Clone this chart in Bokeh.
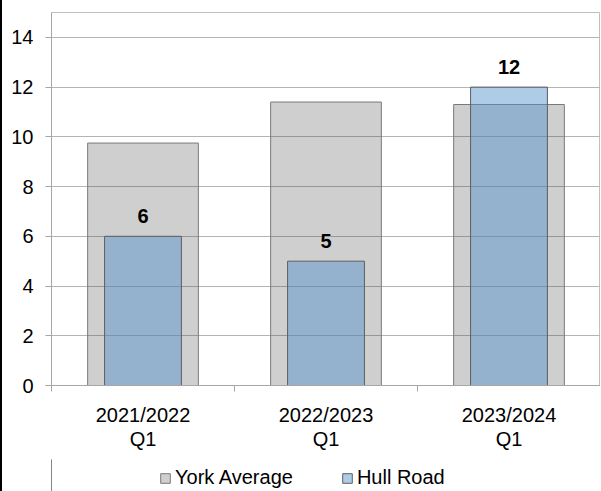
from bokeh.plotting import figure
from bokeh.layouts import column
from bokeh.models import FixedTicker, Legend, LegendItem, Range1d, ColumnDataSource
from bokeh.embed import file_html
from bokeh.resources import INLINE
from bokeh.core.properties import value

periods = ["2021/2022\nQ1", "2022/2023\nQ1", "2023/2024\nQ1"]
york_avg = [9.75, 11.4, 11.3]
hull_road = [6, 5, 12]
y_ticks = [0, 2, 4, 6, 8, 10, 12, 14]
series_names = ["York Average", "Hull Road"]

xs = [i + 0.5 for i in range(len(periods))]
bounds = [i for i in range(len(periods) + 1)]

src = ColumnDataSource(dict(x=xs, york=york_avg, hull=hull_road,
                            lbl=[str(v) for v in hull_road]))

FONT = "Liberation Sans"
FS = "20px"
GRAY = dict(fill_color="#404040", fill_alpha=0.25, line_color="#7a7a7a", line_width=1)
BLUE = dict(fill_color="#5391ce", fill_alpha=0.47, line_color="#5f5f5f", line_width=1)

p = figure(frame_width=549, frame_height=373, output_backend="svg", toolbar_location=None,
           x_range=Range1d(0, len(periods)), y_range=Range1d(0, 15),
           min_border_left=49, min_border_right=0, min_border_top=12,
           min_border_bottom=74)
p.background_fill_color = "white"
p.border_fill_color = "white"
p.outline_line_color = "#c0c0c0"

p.vbar(x="x", top="york", width=0.605, source=src, **GRAY)
p.vbar(x="x", top="hull", width=0.42, source=src, **BLUE)

p.text(x="x", y="hull", text="lbl", source=src, text_align="center",
       text_baseline="middle", y_offset=-20, text_font=value(FONT),
       text_font_size=FS, text_font_style="bold", text_color="black")

# y axis
p.yaxis.ticker = FixedTicker(ticks=y_ticks)
p.yaxis.axis_line_color = "#a6a6a6"
p.yaxis.major_tick_line_color = "#a6a6a6"
p.yaxis.major_tick_out = 6
p.yaxis.major_tick_in = 0
p.yaxis.minor_tick_line_color = None
p.yaxis.major_label_standoff = 12
p.yaxis.major_label_text_font = FONT
p.yaxis.major_label_text_font_size = FS
p.yaxis.major_label_text_color = "black"

# x axis
p.xaxis.ticker = FixedTicker(ticks=xs, minor_ticks=bounds)
p.xaxis.major_label_overrides = {xv: lab for xv, lab in zip(xs, periods)}
p.xaxis.axis_line_color = "#a6a6a6"
p.xaxis.major_tick_line_color = None
p.xaxis.minor_tick_line_color = "#a6a6a6"
p.xaxis.minor_tick_out = 6
p.xaxis.minor_tick_in = 0
p.xaxis.major_label_standoff = 12
p.xaxis.major_label_text_font = FONT
p.xaxis.major_label_text_font_size = FS
p.xaxis.major_label_text_color = "black"
p.xaxis.major_label_text_line_height = 1.1

p.xgrid.grid_line_color = None
p.ygrid.ticker = FixedTicker(ticks=y_ticks)
p.ygrid.grid_line_color = "#b4b4b4"

# legend strip below the chart (swatch renderers sit outside the visible range)
lg = figure(width=598, height=32, output_backend="svg", toolbar_location=None,
            x_range=Range1d(0, 1), y_range=Range1d(0, 1),
            x_axis_location=None, y_axis_location=None,
            min_border=0, min_border_left=0, min_border_right=0,
            min_border_top=0, min_border_bottom=0, outline_line_color=None)
lg.xgrid.grid_line_color = None
lg.ygrid.grid_line_color = None
lg.grid.visible = False
lg.background_fill_color = "white"
lg.border_fill_color = "white"
swatch = ColumnDataSource(dict(x=[-10], top=[1]))
g1 = lg.vbar(x="x", top="top", width=0.1, source=swatch, **GRAY)
g2 = lg.vbar(x="x", top="top", width=0.1, source=swatch, **BLUE)

legend = Legend(items=[LegendItem(label=series_names[0], renderers=[g1]),
                       LegendItem(label=series_names[1], renderers=[g2])],
                orientation="horizontal", location=(108, 2))
legend.label_text_font = FONT
legend.label_text_font_size = FS
legend.label_text_color = "black"
legend.glyph_width = 12
legend.glyph_height = 12
legend.spacing = 48
legend.label_standoff = 4
legend.border_line_color = None
legend.background_fill_alpha = 0
legend.padding = 0
legend.margin = 0
lg.add_layout(legend)

layout = column(p, lg, spacing=0, styles={"border-left": "2px solid #000000"})

open("out.html", "w").write(file_html(layout, INLINE))
